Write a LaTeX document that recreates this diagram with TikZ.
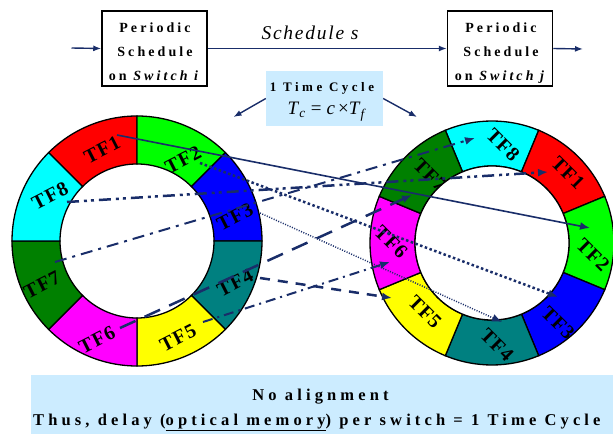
\documentclass[tikz,border=0pt]{standalone}
\usepackage{fontspec}
\setmainfont{Liberation Serif}
\newfontfamily\boxfont[LetterSpace=22]{Liberation Serif}
\newfontfamily\cycfont[LetterSpace=27]{Liberation Serif}
\newfontfamily\bandfont[LetterSpace=25]{Liberation Serif}
\newfontfamily\tffont[LetterSpace=5]{Liberation Serif}
\newfontfamily\schedfont[LetterSpace=9]{Liberation Serif}
\usetikzlibrary{arrows.meta}
\definecolor{navy}{RGB}{25,45,105}
\definecolor{lightblue}{RGB}{204,236,255}
\definecolor{tfred}{RGB}{255,0,0}
\definecolor{tfgreen}{RGB}{0,255,0}
\definecolor{tfblue}{RGB}{0,0,255}
\definecolor{tfteal}{RGB}{0,128,128}
\definecolor{tfyellow}{RGB}{255,255,0}
\definecolor{tfmagenta}{RGB}{255,0,255}
\definecolor{tfdkgreen}{RGB}{0,128,0}
\definecolor{tfcyan}{RGB}{0,255,255}
\begin{document}
\begin{tikzpicture}[x=1pt,y=1pt,
  pbox/.style={draw=black, line width=1.5pt, minimum width=105pt, minimum height=75pt, inner sep=0pt},
  boxtext/.style={inner sep=0pt, align=center, anchor=north, font=\boxfont\bfseries\fontsize{14}{24}\selectfont},
  cycbox/.style={fill=lightblue, minimum width=117pt, minimum height=55pt, inner sep=0pt},
  toparrow/.style={draw=navy, line width=1.4pt, -{Latex[length=8pt,width=6pt]}},
  conn/.style={draw=navy, line width=1.6pt, -{Latex[length=10pt,width=8pt]}},
  tflab/.style={font=\tffont\bfseries\fontsize{20}{20}\selectfont, inner sep=0pt},
  bandtext/.style={font=\bandfont\bfseries\fontsize{16.5}{18}\selectfont, inner sep=0pt},
  sector/.style={draw=black, line width=1.3pt}
]
\useasboundingbox (0,0) rectangle (613,434);

% top boxes
\node[pbox] (boxi) at (154.5,385.5) {};
\node[pbox] (boxj) at (500,385.5) {};
\node[boxtext] (texti) at (155,411.5) {Periodic\\Schedule\\on \textit{Switch i}};
\node[boxtext] (textj) at (501,411.5) {Periodic\\Schedule\\on \textit{Switch j}};
\coordinate (in) at (71.5,386);
\coordinate (out) at (583,385);
\draw[toparrow] (in) -- (boxi.west);
\draw[toparrow] (boxi.east) -- (boxj.west);
\draw[toparrow] (boxj.east) -- (out);
\node[font=\schedfont\itshape\fontsize{19.5}{20}\selectfont, anchor=base, inner sep=0pt] (sched) at (310,394) {Schedule s};

% time cycle box
\node[cycbox] (cyc) at (324.5,335.5) {};
\node[inner sep=0pt, anchor=base, font=\cycfont\bfseries\fontsize{13}{14}\selectfont] (cyct) at (322,342) {1 Time Cycle};
\node[inner sep=0pt, anchor=base, font=\fontsize{19}{19}\selectfont] (cycf) at (327,319) {\textit{T}\textsubscript{\textit{c}}\hspace{5pt}=\hspace{5pt}\textit{c}\,×\textit{T}\textsubscript{\textit{f}}};
\coordinate (cl) at (233.5,317);
\coordinate (cr) at (417,317);
\draw[toparrow] (cyc.west) -- (cl);
\draw[toparrow] (cyc.east) -- (cr);

% bottom band
\fill[lightblue] (31,0) rectangle (613,59);
\node[bandtext, anchor=base] (na) at (320.5,34) {No alignment};
\node[bandtext, anchor=base west] (thus) at (33,9) {Thus, delay (\underline{optical memory}) per switch = 1 Time Cycle};

% left ring
\foreach \a/\b/\c in {90/135/tfred, 45/90/tfgreen, 0/45/tfblue, -45/0/tfteal, -90/-45/tfyellow, -135/-90/tfmagenta, 180/225/tfdkgreen, 135/180/tfcyan}
  \filldraw[sector, fill=\c, shift={(137,193)}] (\a:125) arc[start angle=\a, end angle=\b, radius=125] -- (\b:77) arc[start angle=\b, end angle=\a, radius=77] -- cycle;
\node[tflab, rotate=27] (lTF1) at (102,284) {TF1};
\node[tflab, rotate=27] (lTF2) at (183,274) {TF2};
\node[tflab, rotate=27] (lTF3) at (235,217) {TF3};
\node[tflab, rotate=27] (lTF4) at (235,151) {TF4};
\node[tflab, rotate=27] (lTF5) at (178,96) {TF5};
\node[tflab, rotate=27] (lTF6) at (97,94) {TF6};
\node[tflab, rotate=27] (lTF7) at (42,149) {TF7};
\node[tflab, rotate=27] (lTF8) at (50,238) {TF8};

% right ring
\foreach \a/\b/\c in {67.5/112.5/tfcyan, 22.5/67.5/tfred, -22.5/22.5/tfgreen, -67.5/-22.5/tfblue, -112.5/-67.5/tfteal, -157.5/-112.5/tfyellow, 157.5/202.5/tfmagenta, 112.5/157.5/tfdkgreen}
  \filldraw[sector, fill=\c, shift={(492,191)}] (\a:122) arc[start angle=\a, end angle=\b, radius=122] -- (\b:77) arc[start angle=\b, end angle=\a, radius=77] -- cycle;
\node[tflab, rotate=-45] (rTF8) at (503,289) {TF8};
\node[tflab, rotate=-45] (rTF1) at (568,261) {TF1};
\node[tflab, rotate=-45] (rTF2) at (593,179) {TF2};
\node[tflab, rotate=-45] (rTF3) at (558,111) {TF3};
\node[tflab, rotate=-45] (rTF4) at (497,89) {TF4};
\node[tflab, rotate=-45] (rTF5) at (425,122) {TF5};
\node[tflab, rotate=-45] (rTF6) at (391,192) {TF6};
\node[tflab, rotate=-45] (rTF7) at (430,259) {TF7};
\filldraw[white, draw=black, line width=1.3pt] (492,191) circle[radius=77];

% connector end points
\coordinate (L1) at (117,299);
\coordinate (L2) at (200,271);
\coordinate (L3) at (260,221);
\coordinate (L4) at (260,156);
\coordinate (L5) at (203,112);
\coordinate (L6) at (120,106);
\coordinate (L7) at (55,172);
\coordinate (L8) at (67,232);
\coordinate (R1) at (548,262);
\coordinate (R2) at (590,206);
\coordinate (R3) at (558,137);
\coordinate (R4) at (502,112);
\coordinate (R5) at (392,136);
\coordinate (R6) at (390,172);
\coordinate (R7) at (412,239);
\coordinate (R8) at (475,296);

\draw[conn] (L1) -- (R2);
\draw[conn, line width=2.5pt, dash pattern=on 2.5pt off 2.5pt] (L2) -- (R3);
\draw[conn, line width=1.5pt, dash pattern=on 1pt off 1.5pt] (L3) -- (R4);
\draw[conn, line width=2.5pt, dash pattern=on 10pt off 8pt] (L4) -- (R5);
\draw[conn, line width=2pt, dash pattern=on 10pt off 5pt on 2pt off 5pt] (L5) -- (R6);
\draw[conn, line width=2.5pt, dash pattern=on 17pt off 10pt] (L6) -- (R7);
\draw[conn, line width=2pt, dash pattern=on 12pt off 6pt on 3pt off 6pt] (L7) -- (R8);
\draw[conn, line width=2.5pt, dash pattern=on 12pt off 5pt on 3pt off 4pt on 3pt off 5pt] (L8) -- (R1);
\end{tikzpicture}
\end{document}
